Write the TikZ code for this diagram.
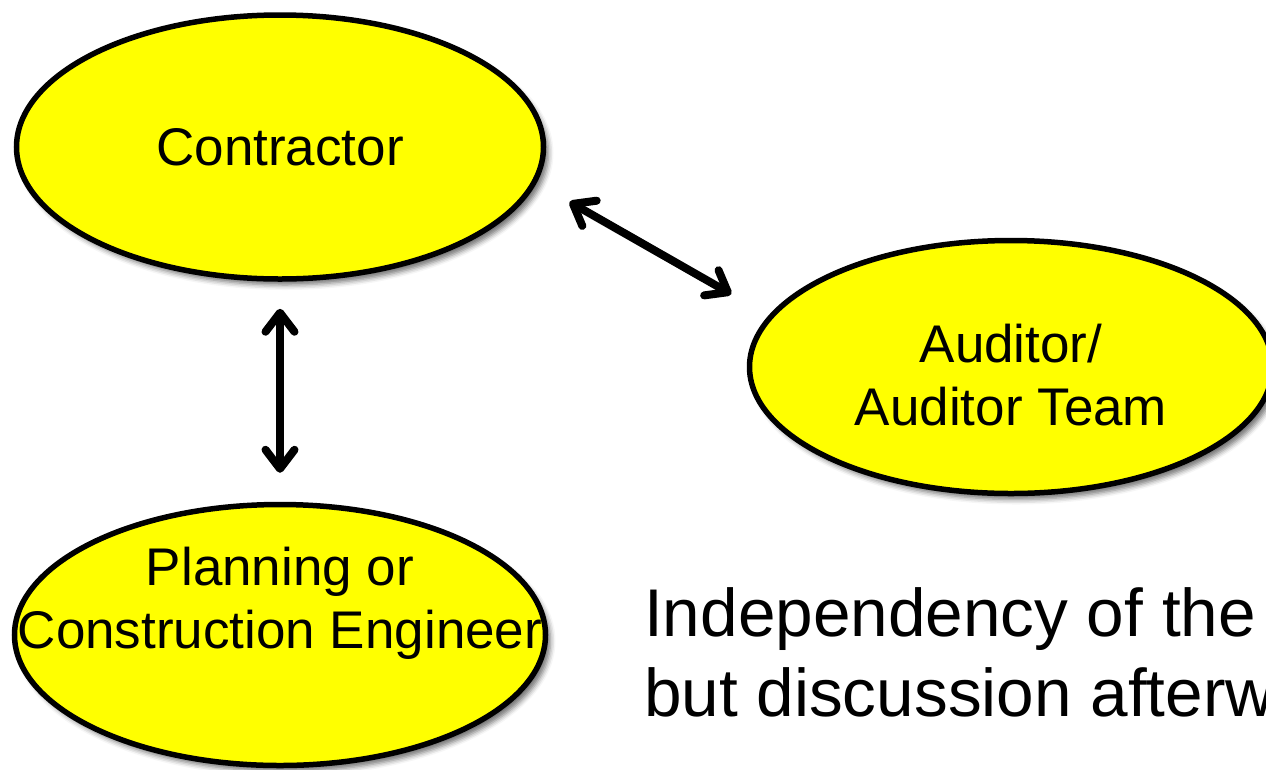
\documentclass[tikz,border=0pt]{standalone}
\usepackage{fontspec}
\setmainfont{Liberation Sans}
\usetikzlibrary{arrows.meta, shapes.geometric, shadows.blur}
\definecolor{partyyellow}{RGB}{255,255,0}

\begin{document}
\begin{tikzpicture}[x=1pt, y=-1pt,
    party/.style={ellipse, draw=black, line width=5.5pt, fill=partyyellow,
                  inner sep=0pt, font=\fontsize{53}{63}\selectfont,
                  blur shadow={shadow xshift=5pt, shadow yshift=-6pt,
                               shadow blur radius=5pt, shadow opacity=55}},
    partyname/.style={inner sep=0pt, align=center,
                      font=\fontsize{53}{63}\selectfont},
    talk/.style={line width=8pt, arrows={<->},
                 >={Straight Barb[length=19pt, width=29pt, round]}}]
      \useasboundingbox (0, 0) rectangle (1266, 769);

      % Draw the three parties.
      \node [party, minimum width=527pt, minimum height=264pt]
            (contractor) at (280, 147) {Contractor};
      \node [party, minimum width=523pt, minimum height=253pt]
            (auditor) at (1011, 367) {};
      \node [party, minimum width=531pt, minimum height=261pt]
            (planning) at (280, 635) {};

      \node [partyname] (auditorname) at ([yshift=-8pt] auditor.center)
            {Auditor/\\Auditor Team};
      \node [partyname] (planningname) at ([yshift=32pt] planning.center)
            {Planning or\\Construction Engineer};

      % Draw the discussions between them.
      \draw [talk, shorten <=27pt, shorten >=29pt]
            (contractor.south) -- (planning.north);
      \draw [talk, shorten <=38pt, shorten >=43pt]
            (contractor.-8) -- (auditor.168);

      % Note.
      \node [anchor=north west, inner sep=0pt, align=left,
             font=\fontsize{67.5}{80}\selectfont] (note) at (644, 587)
            {Independency of the\\but discussion afterw};
    \end{tikzpicture}
\end{document}
